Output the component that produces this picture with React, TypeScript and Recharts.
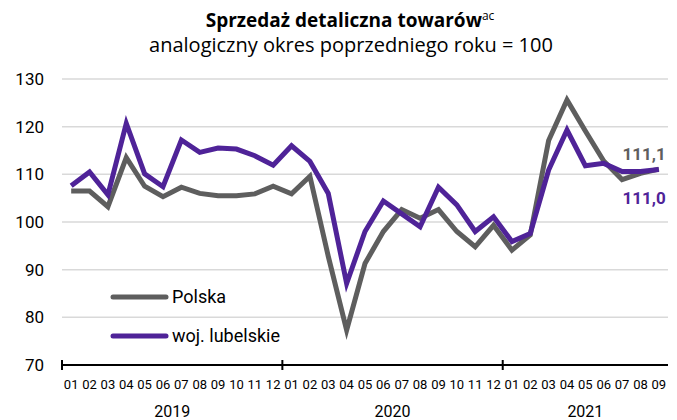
import React from 'react';
import { LineChart, Line, XAxis, YAxis, CartesianGrid, Legend } from 'recharts';

const months = [
  '01','02','03','04','05','06','07','08','09','10','11','12',
  '01','02','03','04','05','06','07','08','09','10','11','12',
  '01','02','03','04','05','06','07','08','09',
];
const years = ['2019', '2020', '2021'];
const monthsPerYear = [12, 12, 9];
const polska = [
  106.5, 106.5, 103.2, 113.5, 107.5, 105.3, 107.3, 106.0, 105.5, 105.5, 105.9, 107.5,
  105.9, 109.6, 92.8, 77.3, 91.3, 98.0, 102.6, 100.8, 102.6, 98.0, 94.8, 99.3,
  94.1, 97.3, 117.1, 125.6, 119.1, 112.8, 108.9, 110.2, 111.1,
];
const lubelskie = [
  107.6, 110.5, 105.7, 120.7, 110.1, 107.4, 117.2, 114.6, 115.5, 115.3, 113.9, 111.9,
  116.0, 112.7, 106.0, 87.1, 98.0, 104.4, 101.7, 99.0, 107.3, 103.6, 98.0, 101.1,
  95.9, 97.6, 110.9, 119.3, 111.8, 112.3, 110.6, 110.6, 111.0,
];
const yTicks = [70, 80, 90, 100, 110, 120, 130];
const seriesNames = ['Polska', 'woj. lubelskie'];
const lastLabels = ['111,1', '111,0'];

const data = months.map((m, i) => ({ m, polska: polska[i], lub: lubelskie[i] }));

const W = 677;
const H = 420;
const MARGIN = { top: 79, right: 9, bottom: 0, left: 0 };
const Y_W = 62;
const X_H = 55;
const BAND = (W - MARGIN.right - Y_W) / months.length;

const GREY = '#5e5e5e';
const PURPLE = '#4f2398';
const FONT = 'Roboto, "Noto Sans", sans-serif';
const TITLE_FONT = '"Open Sans", "Noto Sans", sans-serif';

const groupStarts: Record<number, number> = {};
{
  let acc = 0;
  monthsPerYear.forEach((n, k) => {
    groupStarts[acc] = k;
    acc += n;
  });
}

const XTick = (props: any) => {
  const { x, y, payload } = props;
  const idx = payload.index;
  const g = groupStarts[idx];
  return (
    <g>
      <text x={x} y={y + 24} textAnchor="middle" fontSize={13} fill="#000" fontFamily={FONT}>
        {payload.value}
      </text>
      {g !== undefined && (
        <>
          <line x1={x - BAND / 2} x2={x - BAND / 2} y1={y - 5} y2={y + 5} stroke="#000" strokeWidth={2} />
          <text
            x={x + ((monthsPerYear[g] - 1) / 2) * BAND}
            y={y + 52}
            textAnchor="middle"
            fontSize={16}
            fill="#000"
            fontFamily={FONT}
          >
            {years[g]}
          </text>
        </>
      )}
    </g>
  );
};

const YTick = (props: any) => {
  const { x, y, payload } = props;
  return (
    <text x={x} y={y} dy={6} textAnchor="end" fontSize={17} fill="#000" fontFamily={FONT}>
      {payload.value}
    </text>
  );
};

const makeEndLabel = (text: string, color: string, dy: number) => (props: any) => {
  const { x, y, index } = props;
  if (index !== months.length - 1) return null;
  return (
    <text x={x + 7} y={y + dy} textAnchor="end" fontSize={17} fontWeight={700} fill={color} fontFamily={FONT}>
      {text}
    </text>
  );
};

const LegendContent = () => {
  const colors = [GREY, PURPLE];
  return (
    <div style={{ fontFamily: FONT }}>
      {seriesNames.map((n, i) => (
        <div key={n} style={{ display: 'flex', alignItems: 'center', height: 39 }}>
          <svg width={62} height={10}>
            <line x1={3} x2={56} y1={5} y2={5} stroke={colors[i]} strokeWidth={5} strokeLinecap="round" />
          </svg>
          <span style={{ fontSize: 18, color: '#000' }}>{n}</span>
        </div>
      ))}
    </div>
  );
};

export default function App() {
  return (
    <div style={{ position: 'absolute', left: 0, top: 0, width: W, height: H, background: '#fff' }}>
      <div
        style={{
          position: 'absolute',
          left: 0,
          width: 700,
          top: 10,
          textAlign: 'center',
          fontFamily: TITLE_FONT,
          fontSize: 19,
          fontWeight: 700,
          color: '#000',
          lineHeight: '20px',
          whiteSpace: 'nowrap',
        }}
      >
        Sprzedaż detaliczna towarów<sup style={{ fontSize: 12, fontWeight: 400, verticalAlign: 'top', lineHeight: '12px' }}>ac</sup>
      </div>
      <div
        style={{
          position: 'absolute',
          left: 0,
          width: 702,
          top: 34,
          textAlign: 'center',
          fontFamily: TITLE_FONT,
          fontSize: 20,
          color: '#000',
          lineHeight: '21px',
          whiteSpace: 'nowrap',
        }}
      >
        analogiczny okres poprzedniego roku = 100
      </div>
      <LineChart width={W} height={H} data={data} margin={MARGIN}>
        <CartesianGrid vertical={false} stroke="#d9d9d9" strokeWidth={1.5} />
        <XAxis
          dataKey="m"
          height={X_H}
          interval={0}
          padding={{ left: BAND / 2, right: BAND / 2 }}
          tickSize={0}
          tickMargin={0}
          tickLine={false}
          axisLine={{ stroke: '#000', strokeWidth: 2 }}
          tick={<XTick />}
        />
        <YAxis
          width={Y_W}
          domain={[70, 130]}
          ticks={yTicks}
          interval={0}
          tickSize={0}
          tickMargin={18}
          tickLine={false}
          axisLine={false}
          tick={<YTick />}
        />
        <Legend
          layout="vertical"
          align="center"
          verticalAlign="middle"
          wrapperStyle={{ left: 110, top: 277, width: 220 }}
          content={<LegendContent />}
        />
        <Line
          type="linear"
          dataKey="polska"
          name={seriesNames[0]}
          stroke={GREY}
          strokeWidth={5}
          dot={false}
          isAnimationActive={false}
          label={makeEndLabel(lastLabels[0], GREY, -9)}
        />
        <Line
          type="linear"
          dataKey="lub"
          name={seriesNames[1]}
          stroke={PURPLE}
          strokeWidth={5}
          dot={false}
          isAnimationActive={false}
          label={makeEndLabel(lastLabels[1], PURPLE, 34)}
        />
      </LineChart>
    </div>
  );
}
